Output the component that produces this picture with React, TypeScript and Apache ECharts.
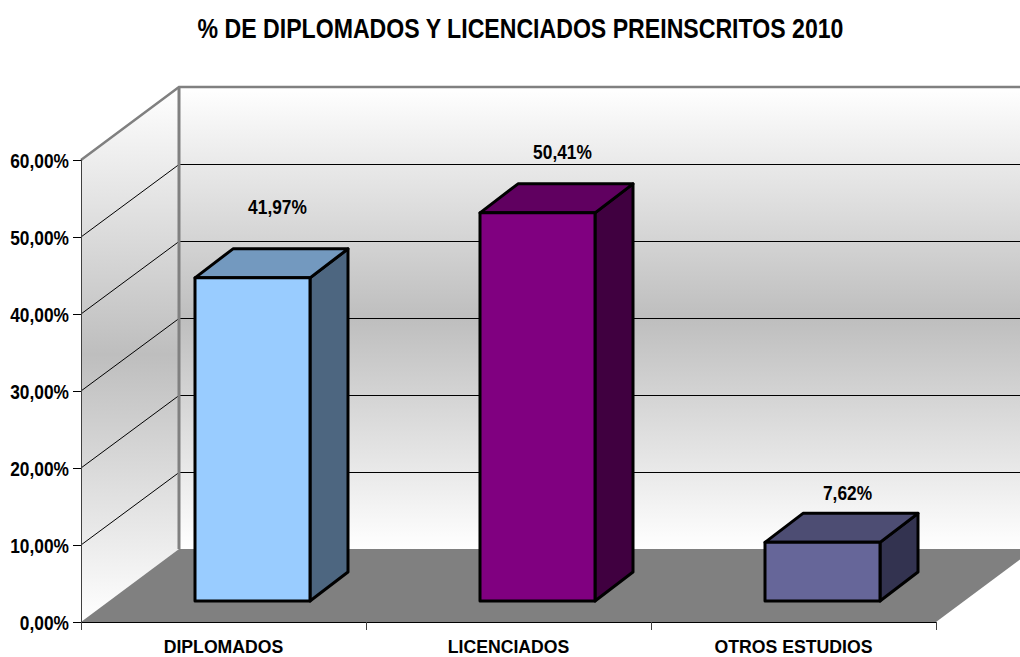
import React, { useEffect, useRef } from "react";
import * as echarts from "echarts";

const titleText = "% DE DIPLOMADOS Y LICENCIADOS PREINSCRITOS 2010";
const categories = ["DIPLOMADOS", "LICENCIADOS", "OTROS ESTUDIOS"];
const values = [41.97, 50.41, 7.62];
const axisTicks = [0, 10, 20, 30, 40, 50, 60];
const gridTicks = [10, 20, 30, 40, 50];
const frontColors = ["#99CCFF", "#800080", "#666699"];
const topColors = ["#7399BF", "#600060", "#4D4D73"];
const sideColors = ["#4D6680", "#400040", "#333350"];
const labelRise = [71, 61, 49];

const FONT = '"Liberation Sans", Arial, sans-serif';
const NARROW = 0.825;
const DEPTH_X = 98;
const DEPTH_Y = 73;
const pct = (v: number) => v.toFixed(2).replace(".", ",") + "%";

const narrowText = (x: number, y: number, text: string, align: string, size = 21, scaleX = NARROW) => ({
  type: "text",
  x,
  y,
  scaleX,
  style: {
    x: 0,
    y: 0,
    text,
    fill: "#000",
    font: `bold ${size}px ${FONT}`,
    align,
    verticalAlign: "middle",
  },
});

const wallFill = () =>
  new echarts.graphic.LinearGradient(0, 0, 0, 1, [
    { offset: 0, color: "#FFFFFF" },
    { offset: 0.5, color: "#BEBEBE" },
    { offset: 1, color: "#FFFFFF" },
  ]);

function renderWalls(_p: any, api: any) {
  const band = api.size([1, 0])[0];
  const [c0, yTop] = api.coord([0, 60]);
  const [c2, yBot] = api.coord([2, 0]);
  const xL = c0 - band / 2;
  const xR = c2 + band / 2;
  const children: any[] = [
    {
      type: "polygon",
      shape: { points: [[xL, yTop], [xL + DEPTH_X, yTop - DEPTH_Y], [xL + DEPTH_X, yBot - DEPTH_Y], [xL, yBot]] },
      style: { fill: wallFill() },
    },
    {
      type: "rect",
      shape: { x: xL + DEPTH_X, y: yTop - DEPTH_Y, width: xR - xL, height: yBot - yTop },
      style: { fill: wallFill() },
    },
    {
      type: "polygon",
      shape: { points: [[xL, yBot], [xL + DEPTH_X, yBot - DEPTH_Y], [xR + DEPTH_X, yBot - DEPTH_Y], [xR, yBot]] },
      style: { fill: "#808080" },
    },
  ];
  gridTicks.forEach((t) => {
    const y = api.coord([0, t])[1];
    children.push({
      type: "polyline",
      shape: { points: [[xL, y], [xL + DEPTH_X, y - DEPTH_Y + 0.5], [xR + DEPTH_X, y - DEPTH_Y + 0.5]] },
      style: { fill: "none", stroke: "#000", lineWidth: 1 },
    });
  });
  children.push({
    type: "polyline",
    shape: {
      points: [[xL, yTop], [xL + DEPTH_X, yTop - DEPTH_Y], [xR + DEPTH_X, yTop - DEPTH_Y]],
    },
    style: { fill: "none", stroke: "#808080", lineWidth: 2.5 },
  });
  children.push({
    type: "line",
    shape: { x1: xL + DEPTH_X, y1: yTop - DEPTH_Y, x2: xL + DEPTH_X, y2: yBot - DEPTH_Y },
    style: { stroke: "#808080", lineWidth: 3 },
  });
  axisTicks.forEach((t) => {
    children.push(narrowText(xL - 12, api.coord([0, t])[1] + 1, pct(t), "right"));
  });
  categories.forEach((c, i) => {
    children.push(narrowText(api.coord([i, 0])[0], yBot + 24, c, "center", 19, 0.93));
  });
  return { type: "group", children };
}

function renderBar(p: any, api: any) {
  const i = p.dataIndex;
  const OFF_X = 29;
  const OFF_Y = 21;
  const W = 115;
  const DX = 38;
  const DY = 29;
  const [cx, yv] = api.coord([api.value(0), api.value(1)]);
  const yb = api.coord([0, 0])[1] - OFF_Y;
  const yt = yv - OFF_Y;
  const x0 = cx + OFF_X - W / 2;
  const x1 = x0 + W;
  const stroke = { stroke: "#000", lineWidth: 3, lineJoin: "round" };
  return {
    type: "group",
    children: [
      {
        type: "polygon",
        shape: { points: [[x1, yt], [x1 + DX, yt - DY], [x1 + DX, yb - DY], [x1, yb]] },
        style: { fill: sideColors[i], ...stroke },
      },
      {
        type: "polygon",
        shape: { points: [[x0, yt], [x0 + DX, yt - DY], [x1 + DX, yt - DY], [x1, yt]] },
        style: { fill: topColors[i], ...stroke },
      },
      {
        type: "rect",
        shape: { x: x0, y: yt, width: W, height: yb - yt },
        style: { fill: frontColors[i], ...stroke },
      },
      narrowText(x0 + W / 2 + 25, yt - labelRise[i], pct(values[i]), "center"),
    ],
  };
}

export default function App() {
  const ref = useRef<HTMLDivElement>(null);
  useEffect(() => {
    const chart = echarts.init(ref.current!, null, { renderer: "svg" });
    chart.setOption({
      animation: false,
      backgroundColor: "#FFFFFF",
      graphic: [
        {
          type: "text",
          x: 520.5,
          y: 28,
          scaleX: 0.826,
          style: {
            x: 0,
            y: 0,
            text: titleText,
            fill: "#000",
            font: `bold 28px ${FONT}`,
            align: "center",
            verticalAlign: "middle",
          },
        },
      ],
      grid: { left: 81, right: 84, top: 160, bottom: 35, containLabel: false, outerBoundsMode: "none" },
      xAxis: {
        type: "category",
        data: categories,
        z: 5,
        axisLine: { lineStyle: { color: "#000", width: 1 } },
        axisTick: { show: true, alignWithLabel: false, length: 8, lineStyle: { color: "#404040" } },
        axisLabel: { show: false },
      },
      yAxis: {
        type: "value",
        min: 0,
        max: 60,
        interval: 10,
        z: 5,
        axisLine: { show: true, lineStyle: { color: "#404040", width: 1 } },
        axisTick: { show: true, length: 8, lineStyle: { color: "#000" } },
        splitLine: { show: false },
        axisLabel: { show: false },
      },
      series: [
        { type: "custom", silent: true, z: 1, renderItem: renderWalls, data: [[0, 60]], encode: { x: 0, y: 1 } },
        {
          type: "custom",
          silent: true,
          z: 3,
          renderItem: renderBar,
          data: values.map((v, i) => [i, v]),
          encode: { x: 0, y: 1 },
        },
      ],
    });
    return () => chart.dispose();
  }, []);
  return (
    <div
      ref={ref}
      style={{ position: "fixed", left: 0, top: 0, width: 1020, height: 657 }}
    />
  );
}
